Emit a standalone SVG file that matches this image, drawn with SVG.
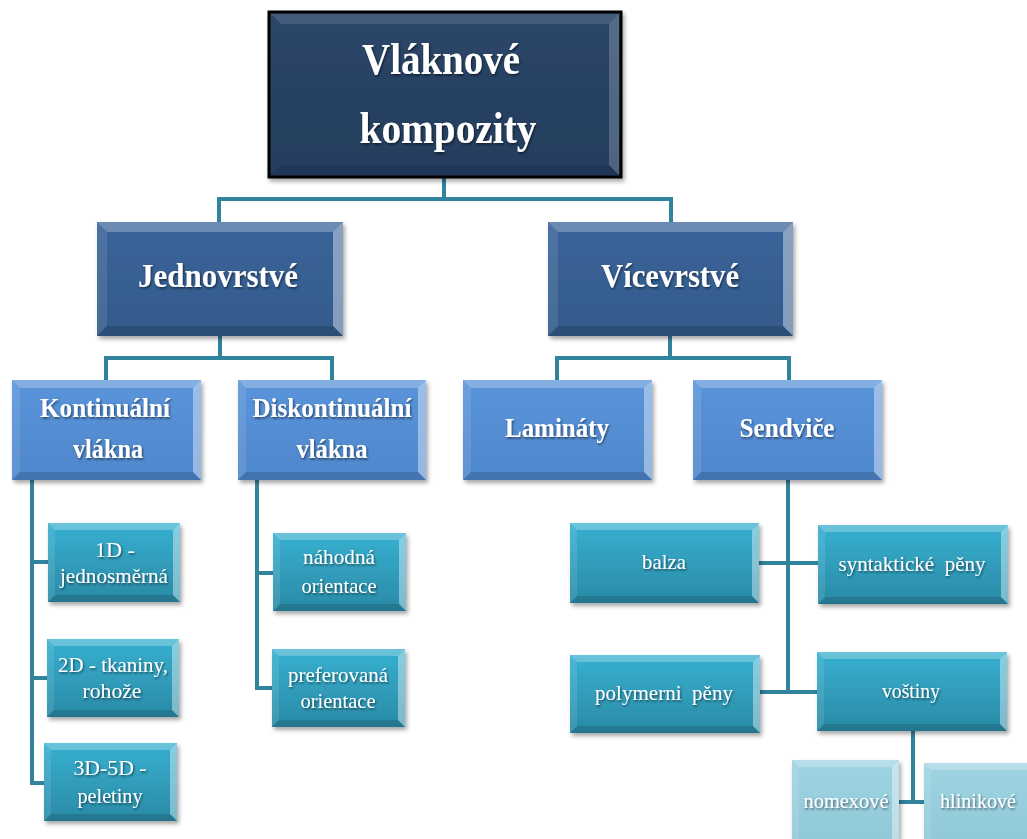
<svg xmlns="http://www.w3.org/2000/svg" width="1027" height="839" viewBox="0 0 1027 839">
<defs>
<filter id="sh" x="-10%" y="-10%" width="125%" height="130%">
<feDropShadow dx="2" dy="3" stdDeviation="2" flood-color="#000" flood-opacity="0.35"/>
</filter>
<filter id="ts" x="-10%" y="-20%" width="120%" height="150%">
<feDropShadow dx="1" dy="1.5" stdDeviation="0.8" flood-color="#000" flood-opacity="0.55"/>
</filter>
<linearGradient id="gRoot" x1="0" y1="0" x2="0" y2="1"><stop offset="0" stop-color="#2b4669"/><stop offset="1" stop-color="#243d5e"/></linearGradient>
<linearGradient id="gL2" x1="0" y1="0" x2="0" y2="1"><stop offset="0" stop-color="#3a659a"/><stop offset="1" stop-color="#335a8a"/></linearGradient>
<linearGradient id="gL3" x1="0" y1="0" x2="0" y2="1"><stop offset="0" stop-color="#5a94da"/><stop offset="1" stop-color="#4f87cc"/></linearGradient>
<linearGradient id="gL4" x1="0" y1="0" x2="0" y2="1"><stop offset="0" stop-color="#37b0d0"/><stop offset="1" stop-color="#2a8aa6"/></linearGradient>
<linearGradient id="gL5" x1="0" y1="0" x2="0" y2="1"><stop offset="0" stop-color="#9fd4e2"/><stop offset="1" stop-color="#8ec7d6"/></linearGradient>
</defs>
<style>
.cn{fill:none;stroke:#31849b;stroke-width:4}
.bt{fill:#ffffff;fill-opacity:0.25}
.br{fill:#ffffff;fill-opacity:0.4}
.bb{fill:#000000;fill-opacity:0.14}
.bl{fill:#ffffff;fill-opacity:0.1}
.rt{fill:#ffffff;fill-opacity:0.12}
.rr{fill:#ffffff;fill-opacity:0.2}
.rb{fill:#000000;fill-opacity:0.1}
text{font-family:"Liberation Serif","Times New Roman",serif;fill:#ffffff;text-anchor:middle;filter:url(#ts)}
.t1{font-size:45px;font-weight:bold}
.t2{font-size:34px;font-weight:bold}
.t3{font-size:27px;font-weight:bold}
.t4{font-size:22px;white-space:pre}
</style>
<rect width="1027" height="839" fill="#ffffff"/>

<g id="connectors">
<path class="cn" d="M444,177 V199 M219,222 V199 H671 V222"/>
<path class="cn" d="M220,336 V358 M106,380 V358 H332 V380"/>
<path class="cn" d="M670,336 V358 M557,380 V358 H789 V380"/>
<path class="cn" d="M32,480 V783 M30,562 H48 M30,678 H47 M30,783 H44"/>
<path class="cn" d="M257,480 V690 M255,573 H273 M255,688 H272"/>
<path class="cn" d="M788,480 V694 M759,563 H818 M760,692 H817"/>
<path class="cn" d="M913,731 V802 M899,802 H924"/>
</g>

<g id="n-root">
<rect x="269" y="12" width="352" height="165" fill="url(#gRoot)" stroke="#000" stroke-width="3" filter="url(#sh)"/>
<polygon class="rt" points="271,14 619,14 609,24 281,24"/>
<polygon class="rr" points="619,14 619,175 609,165 609,24"/>
<polygon class="rb" points="271,175 619,175 609,165 281,165"/>
<text class="t1" x="441" y="74" textLength="158" lengthAdjust="spacingAndGlyphs">Vláknové</text>
<text class="t1" x="448" y="143" textLength="177" lengthAdjust="spacingAndGlyphs">kompozity</text>
</g>

<g id="n-jednovrstve">
<rect x="97" y="222" width="246" height="114" fill="url(#gL2)" filter="url(#sh)"/>
<polygon class="bt" points="97,222 343,222 333,232 107,232"/>
<polygon class="br" points="343,222 343,336 333,326 333,232"/>
<polygon class="bb" points="97,336 343,336 333,326 107,326"/>
<polygon class="bl" points="97,222 97,336 107,326 107,232"/>
<text class="t2" x="218" y="287" textLength="160" lengthAdjust="spacingAndGlyphs">Jednovrstvé</text>
</g>

<g id="n-vicevrstve">
<rect x="548" y="222" width="245" height="114" fill="url(#gL2)" filter="url(#sh)"/>
<polygon class="bt" points="548,222 793,222 783,232 558,232"/>
<polygon class="br" points="793,222 793,336 783,326 783,232"/>
<polygon class="bb" points="548,336 793,336 783,326 558,326"/>
<polygon class="bl" points="548,222 548,336 558,326 558,232"/>
<text class="t2" x="670" y="287" textLength="138" lengthAdjust="spacingAndGlyphs">Vícevrstvé</text>
</g>

<g id="n-kontinualni">
<rect x="12" y="380" width="189" height="100" fill="url(#gL3)" filter="url(#sh)"/>
<polygon class="bt" points="12,380 201,380 193,388 20,388"/>
<polygon class="br" points="201,380 201,480 193,472 193,388"/>
<polygon class="bb" points="12,480 201,480 193,472 20,472"/>
<polygon class="bl" points="12,380 12,480 20,472 20,388"/>
<text class="t3" x="105" y="417" textLength="130" lengthAdjust="spacingAndGlyphs">Kontinuální</text>
<text class="t3" x="108" y="458" textLength="70" lengthAdjust="spacingAndGlyphs">vlákna</text>
</g>

<g id="n-diskontinualni">
<rect x="238" y="380" width="188" height="100" fill="url(#gL3)" filter="url(#sh)"/>
<polygon class="bt" points="238,380 426,380 418,388 246,388"/>
<polygon class="br" points="426,380 426,480 418,472 418,388"/>
<polygon class="bb" points="238,480 426,480 418,472 246,472"/>
<polygon class="bl" points="238,380 238,480 246,472 246,388"/>
<text class="t3" x="332" y="417" textLength="159" lengthAdjust="spacingAndGlyphs">Diskontinuální</text>
<text class="t3" x="332" y="458" textLength="71" lengthAdjust="spacingAndGlyphs">vlákna</text>
</g>

<g id="n-laminaty">
<rect x="463" y="380" width="189" height="100" fill="url(#gL3)" filter="url(#sh)"/>
<polygon class="bt" points="463,380 652,380 644,388 471,388"/>
<polygon class="br" points="652,380 652,480 644,472 644,388"/>
<polygon class="bb" points="463,480 652,480 644,472 471,472"/>
<polygon class="bl" points="463,380 463,480 471,472 471,388"/>
<text class="t3" x="557" y="437" textLength="104" lengthAdjust="spacingAndGlyphs">Lamináty</text>
</g>

<g id="n-sendvice">
<rect x="693" y="380" width="189" height="100" fill="url(#gL3)" filter="url(#sh)"/>
<polygon class="bt" points="693,380 882,380 874,388 701,388"/>
<polygon class="br" points="882,380 882,480 874,472 874,388"/>
<polygon class="bb" points="693,480 882,480 874,472 701,472"/>
<polygon class="bl" points="693,380 693,480 701,472 701,388"/>
<text class="t3" x="787" y="437" textLength="95" lengthAdjust="spacingAndGlyphs">Sendviče</text>
</g>

<g id="n-1d">
<rect x="48" y="523" width="132" height="79" fill="url(#gL4)" filter="url(#sh)"/>
<polygon class="bt" points="48,523 180,523 173,530 55,530"/>
<polygon class="br" points="180,523 180,602 173,595 173,530"/>
<polygon class="bb" points="48,602 180,602 173,595 55,595"/>
<polygon class="bl" points="48,523 48,602 55,595 55,530"/>
<text class="t4" x="115" y="557" textLength="40" lengthAdjust="spacingAndGlyphs">1D -</text>
<text class="t4" x="114" y="583" textLength="108" lengthAdjust="spacingAndGlyphs">jednosměrná</text>
</g>

<g id="n-2d">
<rect x="47" y="639" width="132" height="78" fill="url(#gL4)" filter="url(#sh)"/>
<polygon class="bt" points="47,639 179,639 172,646 54,646"/>
<polygon class="br" points="179,639 179,717 172,710 172,646"/>
<polygon class="bb" points="47,717 179,717 172,710 54,710"/>
<polygon class="bl" points="47,639 47,717 54,710 54,646"/>
<text class="t4" x="113" y="672" textLength="110" lengthAdjust="spacingAndGlyphs">2D - tkaniny,</text>
<text class="t4" x="112" y="698" textLength="59" lengthAdjust="spacingAndGlyphs">rohože</text>
</g>

<g id="n-3d">
<rect x="44" y="743" width="133" height="78" fill="url(#gL4)" filter="url(#sh)"/>
<polygon class="bt" points="44,743 177,743 170,750 51,750"/>
<polygon class="br" points="177,743 177,821 170,814 170,750"/>
<polygon class="bb" points="44,821 177,821 170,814 51,814"/>
<polygon class="bl" points="44,743 44,821 51,814 51,750"/>
<text class="t4" x="110" y="775" textLength="73" lengthAdjust="spacingAndGlyphs">3D-5D -</text>
<text class="t4" x="110" y="803" textLength="65" lengthAdjust="spacingAndGlyphs">peletiny</text>
</g>

<g id="n-nahodna">
<rect x="273" y="533" width="133" height="78" fill="url(#gL4)" filter="url(#sh)"/>
<polygon class="bt" points="273,533 406,533 399,540 280,540"/>
<polygon class="br" points="406,533 406,611 399,604 399,540"/>
<polygon class="bb" points="273,611 406,611 399,604 280,604"/>
<polygon class="bl" points="273,533 273,611 280,604 280,540"/>
<text class="t4" x="339" y="564" textLength="72" lengthAdjust="spacingAndGlyphs">náhodná</text>
<text class="t4" x="339" y="593" textLength="75" lengthAdjust="spacingAndGlyphs">orientace</text>
</g>

<g id="n-preferovana">
<rect x="272" y="649" width="133" height="78" fill="url(#gL4)" filter="url(#sh)"/>
<polygon class="bt" points="272,649 405,649 398,656 279,656"/>
<polygon class="br" points="405,649 405,727 398,720 398,656"/>
<polygon class="bb" points="272,727 405,727 398,720 279,720"/>
<polygon class="bl" points="272,649 272,727 279,720 279,656"/>
<text class="t4" x="338" y="682" textLength="100" lengthAdjust="spacingAndGlyphs">preferovaná</text>
<text class="t4" x="338" y="708" textLength="75" lengthAdjust="spacingAndGlyphs">orientace</text>
</g>

<g id="n-balza">
<rect x="570" y="523" width="189" height="80" fill="url(#gL4)" filter="url(#sh)"/>
<polygon class="bt" points="570,523 759,523 752,530 577,530"/>
<polygon class="br" points="759,523 759,603 752,596 752,530"/>
<polygon class="bb" points="570,603 759,603 752,596 577,596"/>
<polygon class="bl" points="570,523 570,603 577,596 577,530"/>
<text class="t4" x="664" y="569" textLength="44" lengthAdjust="spacingAndGlyphs">balza</text>
</g>

<g id="n-syntakticke">
<rect x="818" y="525" width="190" height="79" fill="url(#gL4)" filter="url(#sh)"/>
<polygon class="bt" points="818,525 1008,525 1001,532 825,532"/>
<polygon class="br" points="1008,525 1008,604 1001,597 1001,532"/>
<polygon class="bb" points="818,604 1008,604 1001,597 825,597"/>
<polygon class="bl" points="818,525 818,604 825,597 825,532"/>
<text class="t4" x="912" y="571" textLength="147" lengthAdjust="spacingAndGlyphs">syntaktické  pěny</text>
</g>

<g id="n-polymerni">
<rect x="570" y="655" width="190" height="78" fill="url(#gL4)" filter="url(#sh)"/>
<polygon class="bt" points="570,655 760,655 753,662 577,662"/>
<polygon class="br" points="760,655 760,733 753,726 753,662"/>
<polygon class="bb" points="570,733 760,733 753,726 577,726"/>
<polygon class="bl" points="570,655 570,733 577,726 577,662"/>
<text class="t4" x="664" y="700" textLength="138" lengthAdjust="spacingAndGlyphs">polymerni  pěny</text>
</g>

<g id="n-vostiny">
<rect x="817" y="652" width="190" height="79" fill="url(#gL4)" filter="url(#sh)"/>
<polygon class="bt" points="817,652 1007,652 1000,659 824,659"/>
<polygon class="br" points="1007,652 1007,731 1000,724 1000,659"/>
<polygon class="bb" points="817,731 1007,731 1000,724 824,724"/>
<polygon class="bl" points="817,652 817,731 824,724 824,659"/>
<text class="t4" x="911" y="698" textLength="58" lengthAdjust="spacingAndGlyphs">voštiny</text>
</g>

<g id="n-nomexove">
<rect x="792" y="760" width="107" height="90" fill="url(#gL5)" filter="url(#sh)"/>
<polygon class="bt" points="792,760 899,760 892,767 799,767"/>
<polygon class="br" points="899,760 899,850 892,843 892,767"/>
<polygon class="bl" points="792,760 792,850 799,843 799,767"/>
<text class="t4" x="846" y="808" textLength="85" lengthAdjust="spacingAndGlyphs">nomexové</text>
</g>

<g id="n-hlinikove">
<rect x="924" y="763" width="110" height="90" fill="url(#gL5)" filter="url(#sh)"/>
<polygon class="bt" points="924,763 1034,763 1027,770 931,770"/>
<polygon class="bl" points="924,763 924,853 931,846 931,770"/>
<text class="t4" x="978" y="808" textLength="76" lengthAdjust="spacingAndGlyphs">hlinikové</text>
</g>
</svg>
